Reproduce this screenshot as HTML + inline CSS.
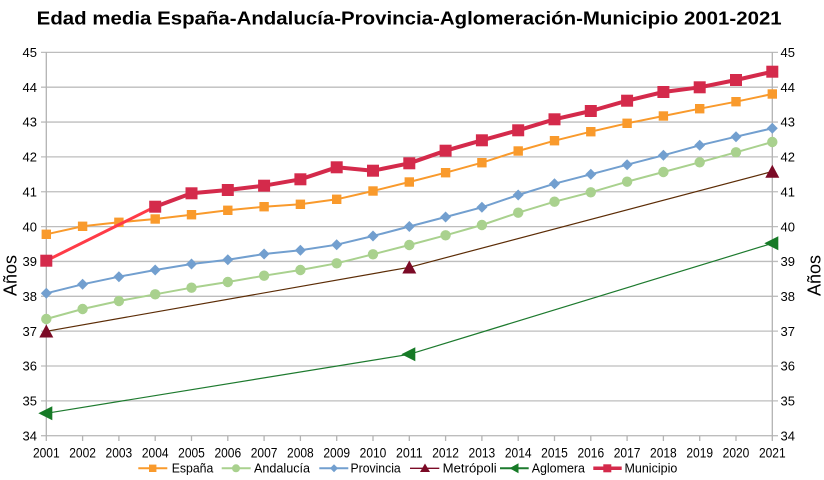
<!DOCTYPE html>
<html><head><meta charset="utf-8"><style>
html,body{margin:0;padding:0;background:#fff;}
svg{display:block;}
text{font-family:"Liberation Sans",Arial,sans-serif;fill:#000;}
</style></head><body>
<svg width="824" height="480" viewBox="0 0 824 480" xmlns="http://www.w3.org/2000/svg">
<rect width="824" height="480" fill="#fff"/>
<text x="36.7" y="24.5" font-size="18.5" font-weight="bold" textLength="745" lengthAdjust="spacingAndGlyphs">Edad media España-Andalucía-Provincia-Aglomeración-Municipio 2001-2021</text>

<!-- grid -->
<g stroke="#bdbdbd" stroke-width="1.3">
<line x1="41" y1="52.35" x2="778" y2="52.35"/>
<line x1="41" y1="87.2" x2="778" y2="87.2"/>
<line x1="41" y1="122.05" x2="778" y2="122.05"/>
<line x1="41" y1="156.9" x2="778" y2="156.9"/>
<line x1="41" y1="191.75" x2="778" y2="191.75"/>
<line x1="41" y1="226.6" x2="778" y2="226.6"/>
<line x1="41" y1="261.45" x2="778" y2="261.45"/>
<line x1="41" y1="296.3" x2="778" y2="296.3"/>
<line x1="41" y1="331.15" x2="778" y2="331.15"/>
<line x1="41" y1="366" x2="778" y2="366"/>
<line x1="41" y1="400.85" x2="778" y2="400.85"/>
<line x1="41" y1="435.7" x2="778" y2="435.7"/>
</g>
<g stroke="#b3b3b3" stroke-width="1.3">
<line x1="46.3" y1="52" x2="46.3" y2="441"/>
<line x1="772.3" y1="52" x2="772.3" y2="441"/>
<path d="M82.6 436v5M118.9 436v5M155.2 436v5M191.5 436v5M227.8 436v5M264.1 436v5M300.4 436v5M336.7 436v5M373 436v5M409.3 436v5M445.6 436v5M481.9 436v5M518.2 436v5M554.5 436v5M590.8 436v5M627.1 436v5M663.4 436v5M699.7 436v5M736 436v5"/>
</g>

<!-- y labels left -->
<g font-size="13" text-anchor="end">
<text x="37" y="57">45</text>
<text x="37" y="91.9">44</text>
<text x="37" y="126.7">43</text>
<text x="37" y="161.6">42</text>
<text x="37" y="196.4">41</text>
<text x="37" y="231.3">40</text>
<text x="37" y="266.1">39</text>
<text x="37" y="301">38</text>
<text x="37" y="335.8">37</text>
<text x="37" y="370.7">36</text>
<text x="37" y="405.5">35</text>
<text x="37" y="440.4">34</text>
</g>
<g font-size="13">
<text x="780.5" y="57">45</text>
<text x="780.5" y="91.9">44</text>
<text x="780.5" y="126.7">43</text>
<text x="780.5" y="161.6">42</text>
<text x="780.5" y="196.4">41</text>
<text x="780.5" y="231.3">40</text>
<text x="780.5" y="266.1">39</text>
<text x="780.5" y="301">38</text>
<text x="780.5" y="335.8">37</text>
<text x="780.5" y="370.7">36</text>
<text x="780.5" y="405.5">35</text>
<text x="780.5" y="440.4">34</text>
</g>
<!-- x labels -->
<g font-size="13.5" text-anchor="middle">
<text x="46.3" y="457.3" textLength="26.7" lengthAdjust="spacingAndGlyphs">2001</text>
<text x="82.6" y="457.3" textLength="26.7" lengthAdjust="spacingAndGlyphs">2002</text>
<text x="118.9" y="457.3" textLength="26.7" lengthAdjust="spacingAndGlyphs">2003</text>
<text x="155.2" y="457.3" textLength="26.7" lengthAdjust="spacingAndGlyphs">2004</text>
<text x="191.5" y="457.3" textLength="26.7" lengthAdjust="spacingAndGlyphs">2005</text>
<text x="227.8" y="457.3" textLength="26.7" lengthAdjust="spacingAndGlyphs">2006</text>
<text x="264.1" y="457.3" textLength="26.7" lengthAdjust="spacingAndGlyphs">2007</text>
<text x="300.4" y="457.3" textLength="26.7" lengthAdjust="spacingAndGlyphs">2008</text>
<text x="336.7" y="457.3" textLength="26.7" lengthAdjust="spacingAndGlyphs">2009</text>
<text x="373" y="457.3" textLength="26.7" lengthAdjust="spacingAndGlyphs">2010</text>
<text x="409.3" y="457.3" textLength="26.7" lengthAdjust="spacingAndGlyphs">2011</text>
<text x="445.6" y="457.3" textLength="26.7" lengthAdjust="spacingAndGlyphs">2012</text>
<text x="481.9" y="457.3" textLength="26.7" lengthAdjust="spacingAndGlyphs">2013</text>
<text x="518.2" y="457.3" textLength="26.7" lengthAdjust="spacingAndGlyphs">2014</text>
<text x="554.5" y="457.3" textLength="26.7" lengthAdjust="spacingAndGlyphs">2015</text>
<text x="590.8" y="457.3" textLength="26.7" lengthAdjust="spacingAndGlyphs">2016</text>
<text x="627.1" y="457.3" textLength="26.7" lengthAdjust="spacingAndGlyphs">2017</text>
<text x="663.4" y="457.3" textLength="26.7" lengthAdjust="spacingAndGlyphs">2018</text>
<text x="699.7" y="457.3" textLength="26.7" lengthAdjust="spacingAndGlyphs">2019</text>
<text x="736" y="457.3" textLength="26.7" lengthAdjust="spacingAndGlyphs">2020</text>
<text x="772.3" y="457.3" textLength="26.7" lengthAdjust="spacingAndGlyphs">2021</text>
</g>
<!-- axis titles -->
<text transform="translate(16.5,275.5) rotate(-90)" font-size="18" text-anchor="middle">Años</text>
<text transform="translate(820.5,275.5) rotate(-90)" font-size="18" text-anchor="middle">Años</text>

<!-- Aglomera -->
<polyline fill="none" stroke="#1d7a2e" stroke-width="1.2" points="46.3,413.3 409.3,354.3 772.3,243.3"/>
<g fill="#167a26">
<path d="M38.3 413.3L52.3 406.3L52.3 420.3Z"/>
<path d="M401.3 354.3L415.3 347.3L415.3 361.3Z"/>
<path d="M764.3 243.3L778.3 236.3L778.3 250.3Z"/>
</g>

<!-- Metropoli -->
<polyline fill="none" stroke="#5c2c06" stroke-width="1.2" points="46.3,331.3 409.3,267.3 772.3,171.5"/>
<g fill="#7b0a26">
<path d="M46.3 324.5L53.3 337.5L39.3 337.5Z"/>
<path d="M409.3 260.5L416.3 273.5L402.3 273.5Z"/>
<path d="M772.3 164.7L779.3 177.7L765.3 177.7Z"/>
</g>

<!-- Andalucia -->
<polyline fill="none" stroke="#a9d18e" stroke-width="2" points="46.3,319 82.6,309 118.9,301 155.2,294.3 191.5,287.7 227.8,282 264.1,275.7 300.4,270 336.7,263.3 373,254.3 409.3,245 445.6,235.3 481.9,225 518.2,212.7 554.5,201.7 590.8,192.3 627.1,181.7 663.4,172 699.7,162.3 736,152.3 772.3,142"/>
<g fill="#a9d18e">
<circle cx="46.3" cy="319" r="5.2"/><circle cx="82.6" cy="309" r="5.2"/><circle cx="118.9" cy="301" r="5.2"/><circle cx="155.2" cy="294.3" r="5.2"/><circle cx="191.5" cy="287.7" r="5.2"/><circle cx="227.8" cy="282" r="5.2"/><circle cx="264.1" cy="275.7" r="5.2"/><circle cx="300.4" cy="270" r="5.2"/><circle cx="336.7" cy="263.3" r="5.2"/><circle cx="373" cy="254.3" r="5.2"/><circle cx="409.3" cy="245" r="5.2"/><circle cx="445.6" cy="235.3" r="5.2"/><circle cx="481.9" cy="225" r="5.2"/><circle cx="518.2" cy="212.7" r="5.2"/><circle cx="554.5" cy="201.7" r="5.2"/><circle cx="590.8" cy="192.3" r="5.2"/><circle cx="627.1" cy="181.7" r="5.2"/><circle cx="663.4" cy="172" r="5.2"/><circle cx="699.7" cy="162.3" r="5.2"/><circle cx="736" cy="152.3" r="5.2"/><circle cx="772.3" cy="142" r="5.2"/>
</g>

<!-- Provincia -->
<polyline fill="none" stroke="#729fcf" stroke-width="2" points="46.3,293.3 82.6,284.3 118.9,276.7 155.2,270 191.5,264 227.8,259.7 264.1,254 300.4,250.3 336.7,244.7 373,236 409.3,226.5 445.6,217 481.9,207.3 518.2,195 554.5,183.7 590.8,174.3 627.1,164.7 663.4,155.3 699.7,145.3 736,136.7 772.3,128.3"/>
<g fill="#729fcf" id="dia">
<path d="M46.3 287.8l5.5 5.5l-5.5 5.5l-5.5-5.5Z"/>
<path d="M82.6 278.8l5.5 5.5l-5.5 5.5l-5.5-5.5Z"/>
<path d="M118.9 271.2l5.5 5.5l-5.5 5.5l-5.5-5.5Z"/>
<path d="M155.2 264.5l5.5 5.5l-5.5 5.5l-5.5-5.5Z"/>
<path d="M191.5 258.5l5.5 5.5l-5.5 5.5l-5.5-5.5Z"/>
<path d="M227.8 254.2l5.5 5.5l-5.5 5.5l-5.5-5.5Z"/>
<path d="M264.1 248.5l5.5 5.5l-5.5 5.5l-5.5-5.5Z"/>
<path d="M300.4 244.8l5.5 5.5l-5.5 5.5l-5.5-5.5Z"/>
<path d="M336.7 239.2l5.5 5.5l-5.5 5.5l-5.5-5.5Z"/>
<path d="M373 230.5l5.5 5.5l-5.5 5.5l-5.5-5.5Z"/>
<path d="M409.3 221l5.5 5.5l-5.5 5.5l-5.5-5.5Z"/>
<path d="M445.6 211.5l5.5 5.5l-5.5 5.5l-5.5-5.5Z"/>
<path d="M481.9 201.8l5.5 5.5l-5.5 5.5l-5.5-5.5Z"/>
<path d="M518.2 189.5l5.5 5.5l-5.5 5.5l-5.5-5.5Z"/>
<path d="M554.5 178.2l5.5 5.5l-5.5 5.5l-5.5-5.5Z"/>
<path d="M590.8 168.8l5.5 5.5l-5.5 5.5l-5.5-5.5Z"/>
<path d="M627.1 159.2l5.5 5.5l-5.5 5.5l-5.5-5.5Z"/>
<path d="M663.4 149.8l5.5 5.5l-5.5 5.5l-5.5-5.5Z"/>
<path d="M699.7 139.8l5.5 5.5l-5.5 5.5l-5.5-5.5Z"/>
<path d="M736 131.2l5.5 5.5l-5.5 5.5l-5.5-5.5Z"/>
<path d="M772.3 122.8l5.5 5.5l-5.5 5.5l-5.5-5.5Z"/>
</g>

<!-- Espana -->
<polyline fill="none" stroke="#f99a2c" stroke-width="2" points="46.3,234.3 82.6,226.3 118.9,222.3 155.2,219 191.5,214.7 227.8,210.3 264.1,206.7 300.4,204.3 336.7,199.3 373,191 409.3,182 445.6,172.7 481.9,162.7 518.2,151 554.5,140.7 590.8,131.7 627.1,123.3 663.4,116 699.7,108.7 736,101.7 772.3,94"/>
<g fill="#f99a2c">
<rect x="41.6" y="229.6" width="9.4" height="9.4"/><rect x="77.9" y="221.6" width="9.4" height="9.4"/><rect x="114.2" y="217.6" width="9.4" height="9.4"/><rect x="150.5" y="214.3" width="9.4" height="9.4"/><rect x="186.8" y="210" width="9.4" height="9.4"/><rect x="223.1" y="205.6" width="9.4" height="9.4"/><rect x="259.4" y="202" width="9.4" height="9.4"/><rect x="295.7" y="199.6" width="9.4" height="9.4"/><rect x="332" y="194.6" width="9.4" height="9.4"/><rect x="368.3" y="186.3" width="9.4" height="9.4"/><rect x="404.6" y="177.3" width="9.4" height="9.4"/><rect x="440.9" y="168" width="9.4" height="9.4"/><rect x="477.2" y="158" width="9.4" height="9.4"/><rect x="513.5" y="146.3" width="9.4" height="9.4"/><rect x="549.8" y="136" width="9.4" height="9.4"/><rect x="586.1" y="127" width="9.4" height="9.4"/><rect x="622.4" y="118.6" width="9.4" height="9.4"/><rect x="658.7" y="111.3" width="9.4" height="9.4"/><rect x="695" y="104" width="9.4" height="9.4"/><rect x="731.3" y="97" width="9.4" height="9.4"/><rect x="767.6" y="89.3" width="9.4" height="9.4"/>
</g>

<!-- Municipio -->
<line x1="46.3" y1="260.7" x2="155.2" y2="206.7" stroke="#ff3b47" stroke-width="3"/>
<polyline fill="none" stroke="#d42a4b" stroke-width="4" stroke-linejoin="round" points="155.2,206.7 191.5,193.3 227.8,190 264.1,185.7 300.4,179.3 336.7,167.3 373,170.7 409.3,163.3 445.6,150.7 481.9,140.3 518.2,130.3 554.5,119.3 590.8,111 627.1,100.7 663.4,92 699.7,87.3 736,80 772.3,71.7"/>
<g fill="#d42a4b">
<rect x="40.3" y="254.7" width="12" height="12"/><rect x="149.2" y="200.7" width="12" height="12"/><rect x="185.5" y="187.3" width="12" height="12"/><rect x="221.8" y="184" width="12" height="12"/><rect x="258.1" y="179.7" width="12" height="12"/><rect x="294.4" y="173.3" width="12" height="12"/><rect x="330.7" y="161.3" width="12" height="12"/><rect x="367" y="164.7" width="12" height="12"/><rect x="403.3" y="157.3" width="12" height="12"/><rect x="439.6" y="144.7" width="12" height="12"/><rect x="475.9" y="134.3" width="12" height="12"/><rect x="512.2" y="124.3" width="12" height="12"/><rect x="548.5" y="113.3" width="12" height="12"/><rect x="584.8" y="105" width="12" height="12"/><rect x="621.1" y="94.7" width="12" height="12"/><rect x="657.4" y="86" width="12" height="12"/><rect x="693.7" y="81.3" width="12" height="12"/><rect x="730" y="74" width="12" height="12"/><rect x="766.3" y="65.7" width="12" height="12"/>
</g>

<!-- legend -->
<g font-size="13">
<line x1="138.3" y1="468.3" x2="167.3" y2="468.3" stroke="#f99a2c" stroke-width="2"/>
<rect x="149" y="464.6" width="7.4" height="7.4" fill="#f99a2c"/>
<text x="171.7" y="472.7" textLength="41.6" lengthAdjust="spacingAndGlyphs">España</text>

<line x1="221.7" y1="468.3" x2="250.7" y2="468.3" stroke="#a9d18e" stroke-width="2"/>
<circle cx="236" cy="468.3" r="4" fill="#a9d18e"/>
<text x="254" y="472.7" textLength="56" lengthAdjust="spacingAndGlyphs">Andalucía</text>

<line x1="319.3" y1="468.3" x2="348.3" y2="468.3" stroke="#729fcf" stroke-width="2"/>
<path d="M334 464.3l4 4l-4 4l-4-4Z" fill="#729fcf"/>
<text x="350.5" y="472.7" textLength="50.2" lengthAdjust="spacingAndGlyphs">Provincia</text>

<line x1="410" y1="468.3" x2="439.3" y2="468.3" stroke="#7b0a26" stroke-width="1.3"/>
<path d="M425 463.5l5 8.5l-10 0Z" fill="#7b0a26"/>
<text x="442.7" y="472.7" textLength="54" lengthAdjust="spacingAndGlyphs">Metrópoli</text>

<line x1="500" y1="468.3" x2="528.7" y2="468.3" stroke="#1d7a2e" stroke-width="2"/>
<path d="M509.5 468.3l9-5l0 10Z" fill="#167a26"/>
<text x="531.7" y="472.7" textLength="53.3" lengthAdjust="spacingAndGlyphs">Aglomera</text>

<line x1="593.3" y1="468.3" x2="621.7" y2="468.3" stroke="#d42a4b" stroke-width="3.5"/>
<rect x="603.3" y="464.3" width="8" height="8" fill="#d42a4b"/>
<text x="624.5" y="472.7" textLength="52.8" lengthAdjust="spacingAndGlyphs">Municipio</text>
</g>
</svg>
</body></html>
